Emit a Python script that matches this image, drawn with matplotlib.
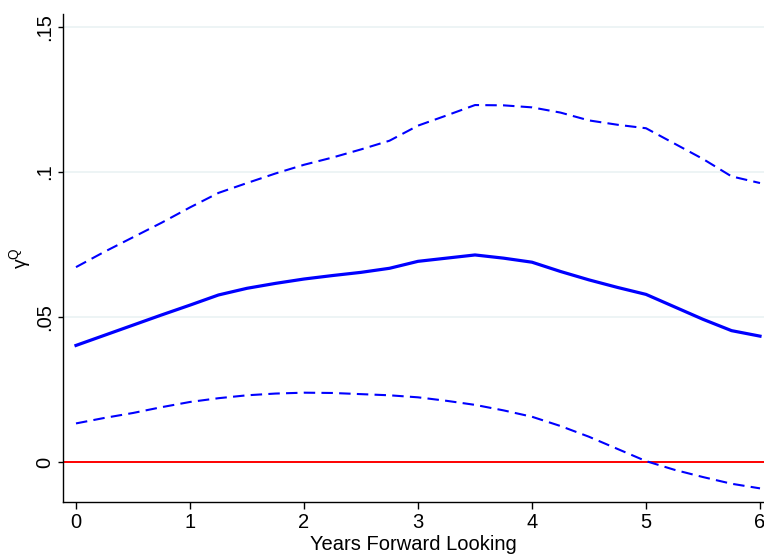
import numpy as np
import matplotlib
matplotlib.use('Agg')
import matplotlib.pyplot as plt

# horizon in years
years = [0, 0.25, 0.5, 0.75, 1.0, 1.25, 1.5, 1.75, 2.0, 2.25, 2.5, 2.75, 3.0,
         3.25, 3.5, 3.75, 4.0, 4.25, 4.5, 4.75, 5.0, 5.25, 5.5, 5.75, 6.0]

# point estimate
gamma_q = [0.0402, 0.0437, 0.0472, 0.0507, 0.0541, 0.0576, 0.0599, 0.0616, 0.0631,
           0.0643, 0.0654, 0.0668, 0.0692, 0.0703, 0.0714, 0.0703, 0.0689, 0.0657,
           0.0628, 0.0602, 0.0578, 0.0535, 0.0492, 0.0453, 0.0434]

# confidence bands
upper = [0.0672, 0.0725, 0.0775, 0.0825, 0.0878, 0.0928, 0.0962, 0.0995, 0.1025,
         0.1050, 0.1078, 0.1108, 0.1160, 0.1195, 0.1231, 0.1230, 0.1223, 0.1205,
         0.1178, 0.1163, 0.1151, 0.1098, 0.1045, 0.0985, 0.0962]
lower = [0.0133, 0.0152, 0.0169, 0.0189, 0.0207, 0.0220, 0.0230, 0.0236, 0.0239,
         0.0238, 0.0234, 0.0230, 0.0223, 0.0211, 0.0197, 0.0178, 0.0156, 0.0124,
         0.0087, 0.0045, 0.0003, -0.0027, -0.0052, -0.0075, -0.0091]

xticks = [0, 1, 2, 3, 4, 5, 6]
yticks = [0, 0.05, 0.1, 0.15]
ytick_labels = ['0', '.05', '.1', '.15']

plt.rcParams['font.family'] = ['Liberation Sans Narrow', 'Liberation Sans', 'DejaVu Sans']
plt.rcParams['mathtext.fontset'] = 'custom'
plt.rcParams['mathtext.rm'] = 'Liberation Sans'
plt.rcParams['mathtext.it'] = 'Liberation Sans'

fig = plt.figure(figsize=(7.64, 5.56), dpi=100)
ax = fig.add_axes([63 / 764, 54 / 556, 1 - 63 / 764, (502 - 14) / 556])

ax.axhline(0, color='red', lw=1.4, zorder=2)
ax.plot(years, upper, color='blue', lw=1.5, dashes=(5.5, 3), zorder=3)
ax.plot(years, lower, color='blue', lw=1.5, dashes=(5.5, 3), zorder=3)
ax.plot(years, gamma_q, color='blue', lw=2.3, zorder=4)

ax.set_xlim(-0.114, 6.035)
ax.set_ylim(-0.0138, 0.1545)
ax.set_xticks(xticks)
ax.set_yticks(yticks)
ax.set_yticklabels(ytick_labels, rotation=90, va='center')
ax.tick_params(axis='x', length=5, width=1, labelsize=14.5, pad=3)
ax.tick_params(axis='y', length=3.5, width=1, labelsize=14.5, pad=3)
ax.grid(axis='y', color='#eaf2f3', lw=1.2, zorder=0)
ax.set_axisbelow(True)

for side in ['top', 'right']:
    ax.spines[side].set_visible(False)
for side in ['left', 'bottom']:
    ax.spines[side].set_linewidth(1.0)

ax.set_xlabel('Years Forward Looking', fontsize=14.5, labelpad=2)
fig.text(20 / 764, 1 - 258 / 556, r'$\mathregular{\gamma^{Q}}$', fontsize=14,
         rotation=90, ha='center', va='center')

fig.savefig('out.png', dpi=100)
